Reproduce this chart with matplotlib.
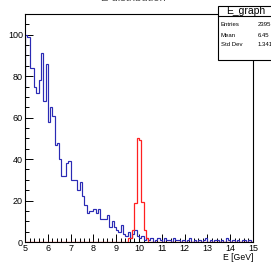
import numpy as np
import matplotlib
matplotlib.use("Agg")
import matplotlib.pyplot as plt
from matplotlib.ticker import MultipleLocator

# ---- data ----
bin_lo = 4.9          # first (off-axis) bin low edge
bin_w = 0.1
blue_vals = [74,
    100, 99, 84, 84, 75, 72, 78, 91, 68, 86,
    58, 65, 61, 47, 48, 40, 32, 32, 38, 39,
    30, 30, 30, 25, 29, 22, 18, 14, 15, 15,
    16, 14, 16, 11, 11, 11, 13, 7, 10, 7,
    6, 5, 8, 4, 3, 5, 2, 4, 6, 3,
    2, 3, 1, 2, 1, 2, 0, 1, 2, 1,
    0, 2, 1, 1, 0, 2, 1, 1, 0, 1,
    0, 1, 2, 0, 1, 0, 1, 0, 1, 2,
    0, 1, 0, 1, 1, 0, 1, 0, 2, 1,
    0, 1, 0, 1, 0, 1, 1, 0, 1, 0]
red_vals = [0] * 101
red_peak = {46: 2, 47: 2, 48: 6, 49: 19, 50: 50, 51: 49, 52: 19.5, 53: 6, 54: 2}
for k, v in red_peak.items():
    red_vals[k] = v

title = "E distribution"
stats_title = "E_graph"
stats_names = ["Entries", "Mean", "Std Dev"]
stats_values = ["2395", "6.45", "1.341"]
xlabel = "E [GeV]"

W, H = 271, 262
fig = plt.figure(figsize=(W / 100, H / 100), dpi=100)
plt.rcParams['font.family'] = ['Liberation Sans', 'DejaVu Sans']

L, R, T, B = 25, 253, 14, 242
ax = fig.add_axes([L / W, 1 - B / H, (R - L) / W, (B - T) / H])

edges_b = bin_lo + bin_w * np.arange(len(blue_vals) + 1)
edges_r = bin_lo + bin_w * np.arange(len(red_vals) + 1)
ax.stairs(red_vals, edges_r, color='#ff2020', lw=0.9, baseline=None, zorder=3)
ax.stairs(blue_vals, edges_b, color='#2a2ab4', lw=0.85, baseline=None, zorder=2)

ax.set_xlim(5, 15)
ax.set_ylim(0, 110)
ax.xaxis.set_major_locator(MultipleLocator(1))
ax.xaxis.set_minor_locator(MultipleLocator(0.2))
ax.yaxis.set_major_locator(MultipleLocator(20))
ax.yaxis.set_minor_locator(MultipleLocator(5))
ax.tick_params(direction='in', which='major', length=6, width=0.7, labelsize=6.5,
               pad=1.5, top=False, right=False)
ax.tick_params(direction='in', which='minor', length=3, width=0.7, top=False, right=False)
for s in ax.spines.values():
    s.set_linewidth(0.8)

# x-axis title, right aligned at the end of the axis
fig.text(R / W, 1 - 259.5 / H, xlabel, ha='right', va='baseline', fontsize=6.2)

# title, mostly above the canvas
fig.text(133 / W, 1 - 1.2 / H, title, ha='center', va='baseline', fontsize=8, color='#555555')

# stats box
bx, by0, by1, bsep = 218, 6, 60, 16
box = plt.Rectangle((bx / W, 1 - by1 / H), 80 / W, (by1 - by0) / H, transform=fig.transFigure,
                    facecolor='white', edgecolor='black', lw=0.8, zorder=10)
fig.add_artist(box)
fig.add_artist(plt.Line2D([bx / W, 1.2], [1 - bsep / H] * 2, transform=fig.transFigure,
                          color='black', lw=0.8, zorder=11))
fig.text(246 / W, 1 - 11.5 / H, stats_title, ha='center', va='center', fontsize=7.5, zorder=12)
for i, (n, v) in enumerate(zip(stats_names, stats_values)):
    yy = 1 - (25 + 10 * i) / H
    fig.text(221 / W, yy, n, ha='left', va='center', fontsize=4.3, zorder=12)
    fig.text(258 / W, yy, v, ha='left', va='center', fontsize=4.3, zorder=12)

fig.savefig("out.png", dpi=100)
